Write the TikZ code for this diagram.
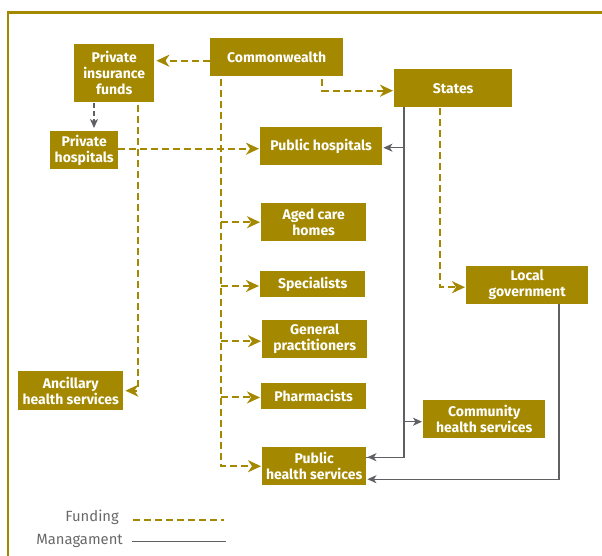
\documentclass[tikz,border=0pt]{standalone}
\usepackage{fontspec}
\setmainfont{Fira Sans}
\usetikzlibrary{arrows.meta,calc}
\definecolor{olv}{RGB}{163,136,0}
\definecolor{mgmt}{RGB}{95,95,100}
\definecolor{legtxt}{RGB}{105,105,105}
\tikzset{
  box/.style={fill=olv, text=white, font=\fontsize{14}{16}\selectfont\bfseries, align=center, inner sep=0pt, anchor=north west},
  fund/.style={draw=olv, line width=2pt, dash pattern=on 7pt off 4pt, -{Stealth[length=13pt,width=12pt,inset=4pt]}},
  fundline/.style={draw=olv, line width=2pt, dash pattern=on 7pt off 4pt},
  mgt/.style={draw=mgmt, line width=1.4pt, -{Stealth[length=9pt,width=8pt,inset=2.5pt]}},
  mgtline/.style={draw=mgmt, line width=1.4pt},
  legend/.style={text=legtxt, font=\fontsize{14.8}{16}\selectfont, anchor=east, inner sep=0pt}
}
\begin{document}
\begin{tikzpicture}[x=1pt,y=-1pt]
\useasboundingbox (0,0) rectangle (602,555);
% frame
\draw[olv, line width=2.5pt] (8,560) -- (8,12.5) -- (610,12.5);
% boxes
\node[box, minimum width=80pt, minimum height=58pt] (pif) at (74,44) {Private\\insurance\\funds};
\node[box, minimum width=133pt, minimum height=38pt] (cw) at (210,38) {Commonwealth};
\node[box, minimum width=118pt, minimum height=38pt] (st) at (394,69) {States};
\node[box, minimum width=68pt, minimum height=38pt] (ph) at (50,131) {Private\\hospitals};
\node[box, minimum width=122pt, minimum height=38pt] (pubh) at (260,127) {Public hospitals};
\node[box, minimum width=105pt, minimum height=38pt] (ach) at (261,203) {Aged care\\homes};
\node[box, minimum width=105pt, minimum height=25.5pt] (spec) at (260,271) {Specialists};
\node[box, minimum width=105pt, minimum height=38pt] (gp) at (262,320) {General\\practitioners};
\node[box, minimum width=105pt, minimum height=25.5pt] (phar) at (261,383) {Pharmacists};
\node[box, minimum width=104pt, minimum height=38pt] (phs) at (262,447) {Public\\health services};
\node[box, minimum width=122pt, minimum height=38pt] (lg) at (466,266) {Local\\government};
\node[box, minimum width=122pt, minimum height=38pt] (chs) at (423,400) {Community\\health services};
\node[box, minimum width=105pt, minimum height=39pt] (anc) at (18,371) {Ancillary\\health services};
% coordinates for trunks
\coordinate (cwtrunk) at ($(cw.south west)+(11,3)$);
\coordinate (cwst) at ($(cw.south west)+(112,3)$);
\coordinate (piftrunk) at ($(pif.south west)+(64,3)$);
\coordinate (pifph) at ($(pif.south west)+(20,1)$);
\coordinate (stmg) at ($(st.south west)+(10,0)$);
\coordinate (stfd) at ($(st.south west)+(46,1)$);
\coordinate (lgmg) at ($(lg.south west)+(93,0)$);
% funding connectors
\draw[fund] ($(cw.west)+(0,3.5)$) -- ($(cw.west -| pif.east)+(2,3.5)$);
\draw[fund] (cwst) |- ($(st.west)+(-1,2.5)$);
\draw[fund] (cwtrunk) |- ($(phs.west)+(-1,0)$);
\draw[fund] (cwtrunk |- ach.west) -- ($(ach.west)+(-1,0)$);
\draw[fund] ($(cwtrunk |- spec.west)+(0,2)$) -- ($(spec.west)+(-1,2)$);
\draw[fund] ($(cwtrunk |- gp.west)+(0,2)$) -- ($(gp.west)+(-1,2)$);
\draw[fund] ($(cwtrunk |- phar.west)+(0,1.5)$) -- ($(phar.west)+(-1,1.5)$);
\draw[fund] ($(ph.east)+(0,-1.5)$) -- ($(ph.east -| pubh.west)+(-1,-1.5)$);
\draw[fund] (piftrunk) |- ($(anc.east)+(2,0)$);
\draw[fund] (stfd) |- ($(lg.west)+(-1,2)$);
\draw[draw=mgmt, line width=1.5pt, dash pattern=on 5pt off 3pt, -{Stealth[length=9pt,width=8pt,inset=2.5pt]}] (pifph) -- ($(pifph |- ph.north)+(0,-3)$);
% management connectors
\draw[mgtline] (stmg) |- ($(phs.east)+(0,-9)$);
\draw[mgt] ($(stmg |- phs.east)+(0,-9)$) -- ($(phs.east)+(1,-9)$);
\draw[mgt] ($(stmg |- pubh.east)+(0,1.5)$) -- ($(pubh.east)+(1,1.5)$);
\draw[mgt] ($(stmg |- chs.west)+(0,2.5)$) -- ($(chs.west)+(-1,2.5)$);
\draw[mgt] (lgmg) |- ($(phs.east)+(1,13)$);
% legend
\node[legend] (lf) at (119,517) {Funding};
\node[legend] (lm) at (123,540.5) {Managament};
\coordinate (lfs) at (133,519.5);
\coordinate (lfe) at (224,519.5);
\coordinate (lms) at (132,541.3);
\coordinate (lme) at (226,541.3);
\draw[fundline] (lfs) -- (lfe);
\draw[mgtline] (lms) -- (lme);
\end{tikzpicture}
\end{document}
